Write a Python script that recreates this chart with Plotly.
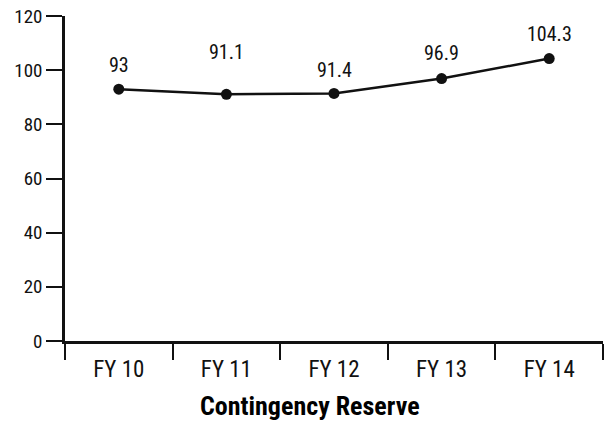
import plotly.graph_objects as go

categories = ["FY 10", "FY 11", "FY 12", "FY 13", "FY 14"]
values = [93, 91.1, 91.4, 96.9, 104.3]
value_labels = ["93", "91.1", "91.4", "96.9", "104.3"]
y_ticks = [0, 20, 40, 60, 80, 100, 120]
title_text = "Contingency Reserve"

# label vertical offsets in pixels (style)
label_shifts = [24, 42, 23, 26, 25]

FONT = "Roboto Condensed, Liberation Sans Narrow, Roboto, sans-serif"

fig = go.Figure()
fig.add_trace(go.Scatter(
    x=categories, y=values, mode="lines+markers",
    line=dict(color="#111111", width=2.5),
    marker=dict(color="#111111", size=11),
    hoverinfo="skip", showlegend=False,
))

for c, v, t, s in zip(categories, values, value_labels, label_shifts):
    fig.add_annotation(x=c, y=v, xref="x", yref="y", text=t, showarrow=False,
                       yanchor="middle", yshift=s,
                       font=dict(family=FONT, size=20, color="#111111"))

L, R, T, B = 65, 2, 16, 82
W, H = 605, 423
fig.add_annotation(x=(310 - L) / (W - L - R), y=-(406 - (H - B)) / (H - T - B),
                   xref="paper", yref="paper", text="<b>" + title_text + "</b>",
                   showarrow=False, xanchor="center", yanchor="middle",
                   font=dict(family=FONT, size=26, color="#000000"))

fig.update_layout(
    width=W, height=H,
    margin=dict(l=L, r=R, t=T, b=B),
    plot_bgcolor="white", paper_bgcolor="white",
    font=dict(family=FONT, size=20, color="#111111"),
    xaxis=dict(type="category", range=[-0.5, 4.5], tickson="boundaries",
               ticks="outside", ticklen=16, tickwidth=1.5, tickcolor="#111111",
               ticklabelstandoff=6,
               showline=True, linecolor="#111111", linewidth=2.5,
               showgrid=False, zeroline=False, fixedrange=True,
               tickfont=dict(family=FONT, size=23, color="#111111")),
    yaxis=dict(range=[0, 120], tickvals=y_ticks,
               ticks="outside", ticklen=16, tickwidth=1.5, tickcolor="#111111",
               showline=True, linecolor="#111111", linewidth=2.5,
               showgrid=False, zeroline=False, fixedrange=True,
               tickfont=dict(family=FONT, size=19, color="#111111")),
)

fig.write_html("out.html")
